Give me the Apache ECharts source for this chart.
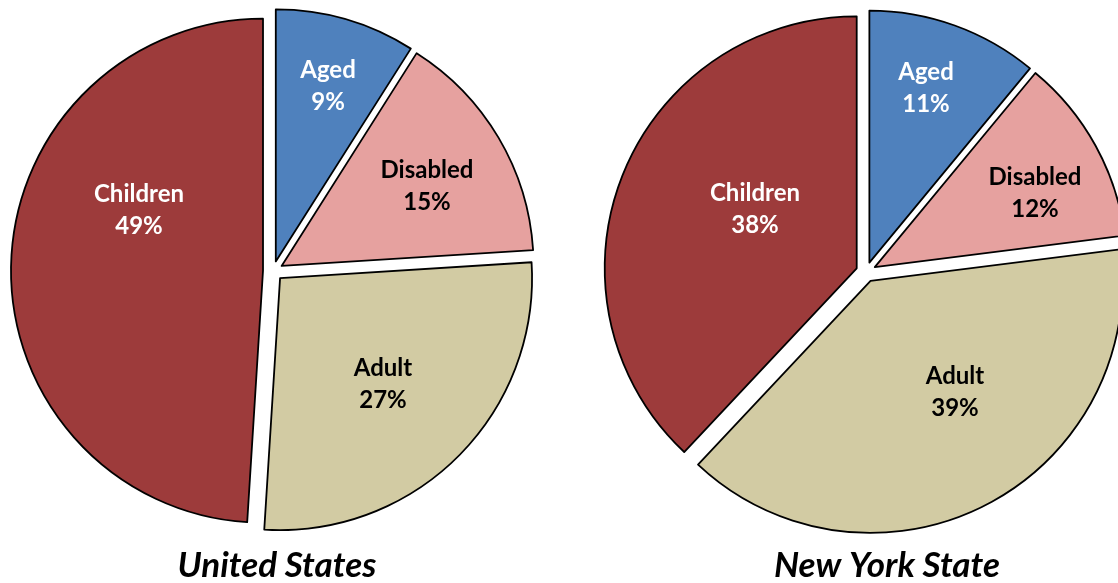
<!DOCTYPE html>
<html>
<head>
<meta charset="utf-8">
<script src="https://cdn.jsdelivr.net/npm/echarts@6/dist/echarts.min.js"></script>
<style>
	html, body { margin: 0; padding: 0; background: #fff; }
	#main { width: 1118px; height: 583px; }
</style>
</head>
<body>
<div id="main"></div>
<script>
'use strict';
// shares of enrollment, clockwise from 12 o'clock
var categories = ['Aged', 'Disabled', 'Adult', 'Children'];
var usShare = [9, 15, 27, 49];
var nysShare = [11, 12, 39, 38];
var pieTitles = ['United States', 'New York State'];

var sliceColors = ['#4f81bd', '#e6a19f', '#d2cba3', '#9d3b3b'];
var labelColors = ['#ffffff', '#000000', '#000000', '#ffffff'];
var font = 'Lato, "DejaVu Sans", sans-serif';

// label anchors, relative to each pie centre (Excel "best fit" spots)
var pies = [
	{ center: [273, 271], spots: [[55, -185], [154, -85], [110, 113], [-134, -61]], values: usShare, titleX: 277 },
	{ center: [866, 272], spots: [[60, -184], [169, -79], [89, 120], [-111, -63]], values: nysShare, titleX: 887 }
];

// the exploded slices (selected state moves each one out)
function slices(p) {
	return {
		type: 'pie',
		center: p.center,
		radius: 252,
		startAngle: 90,
		clockwise: true,
		animation: false,
		silent: true,
		selectedMode: 'multiple',
		selectedOffset: 10,
		itemStyle: { borderColor: '#000', borderWidth: 1.8 },
		label: { show: false },
		labelLine: { show: false },
		data: categories.map(function (name, i) {
			return {
				name: name,
				value: p.values[i],
				selected: true,
				itemStyle: { color: sliceColors[i] }
			};
		})
	};
}

// transparent twin carrying the labels, so labelLayout is not overridden
function labels(p) {
	return {
		type: 'pie',
		center: p.center,
		radius: 252,
		startAngle: 90,
		clockwise: true,
		animation: false,
		silent: true,
		z: 5,
		itemStyle: { color: 'rgba(0,0,0,0)', borderWidth: 0 },
		label: {
			show: true,
			position: 'inside',
			formatter: '{b}\n{c}%',
			fontFamily: font,
			fontWeight: 'bold',
			fontSize: 24,
			lineHeight: 32
		},
		labelLine: { show: false },
		labelLayout: function (params) {
			var s = p.spots[params.dataIndex];
			return { x: p.center[0] + s[0], y: p.center[1] + s[1] };
		},
		data: categories.map(function (name, i) {
			return {
				name: name,
				value: p.values[i],
				label: { color: labelColors[i] }
			};
		})
	};
}

var option = {
	backgroundColor: '#fff',
	series: pies.map(slices).concat(pies.map(labels)),
	graphic: pies.map(function (p, i) {
		return {
			type: 'text',
			x: p.titleX,
			y: 566,
			style: {
				text: pieTitles[i],
				textAlign: 'center',
				textVerticalAlign: 'middle',
				font: 'italic bold 35px ' + font,
				fill: '#000'
			}
		};
	})
};

var chart = echarts.init(document.getElementById('main'));
chart.setOption(option);
</script>
</body>
</html>
